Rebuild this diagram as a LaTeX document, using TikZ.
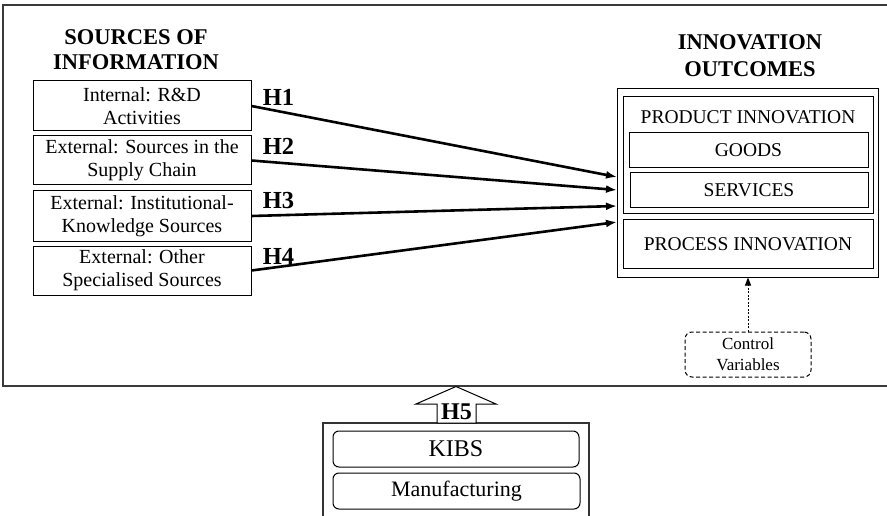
\documentclass[tikz,border=0pt]{standalone}
\usepackage{fontspec}
\setmainfont{Liberation Serif}
\usetikzlibrary{arrows.meta,calc}
\definecolor{framegray}{HTML}{3A3A3A}
\begin{document}
\begin{tikzpicture}[x=1pt,y=-1pt,
  srcbox/.style={draw=black,line width=1pt,minimum width=218pt,minimum height=49pt,inner sep=0pt,align=center,font=\fontsize{20}{23}\selectfont},
  innbox/.style={draw=black,line width=1pt,inner sep=0pt},
  innlabel/.style={inner sep=0pt,font=\fontsize{19.5}{22}\selectfont},
  title/.style={align=center,inner sep=0pt,font=\fontsize{22.5}{25}\selectfont\bfseries},
  hlabel/.style={inner sep=0pt,font=\fontsize{24.5}{26}\selectfont\bfseries},
  hyparrow/.style={line width=2.6pt,-{Latex[length=11pt,width=8pt]}},
  roundbox/.style={draw=black,line width=1pt,rounded corners=6pt,inner sep=0pt}
]
\useasboundingbox (0,0) rectangle (887,516);
\clip (0,0) rectangle (887,516);

% outer frame
\draw[framegray,line width=1.3pt] (3,5) rectangle (895,386);

% titles
\node[title] (t1) at (136,50) {SOURCES OF\\INFORMATION};
\node[title,font=\fontsize{22.5}{27}\selectfont\bfseries] (t2) at (750,56) {INNOVATION\\OUTCOMES};

% source boxes
\node[srcbox,minimum height=50pt] (s1) at (142,106) {Internal: R\&D\\Activities};
\node[srcbox] (s2) at (142,160.5) {External: Sources in the\\Supply Chain};
\node[srcbox,minimum height=50pt] (s3) at (142,216) {External: Institutional-\\Knowledge Sources};
\node[srcbox] (s4) at (142,270.5) {External: Other\\Specialised Sources};

% hypothesis labels
\node[hlabel] (h1) at (278.5,97) {H1};
\node[hlabel] (h2) at (278.5,146) {H2};
\node[hlabel] (h3) at (278.5,201) {H3};
\node[hlabel] (h4) at (278.5,256) {H4};

% innovation outcomes
\node[innbox,minimum width=261pt,minimum height=188pt] (out) at (747.5,183) {};
\node[innbox,minimum width=250pt,minimum height=117pt] (prod) at (748,155.5) {};
\node[innlabel] (prodl) at (748,117) {PRODUCT INNOVATION};
\node[innbox,minimum width=239pt,minimum height=35pt] (goods) at (748.5,150.5) {};
\node[innlabel] at (goods.center) {GOODS};
\node[innbox,minimum width=238pt,minimum height=35pt] (serv) at (749,190.5) {};
\node[innlabel] at (serv.center) {SERVICES};
\node[innbox,minimum width=250pt,minimum height=48pt] (proc) at (748,244) {};
\node[innlabel] at (proc.center) {PROCESS INNOVATION};

% arrow targets
\coordinate (e1) at (617,177);
\coordinate (e2) at (617,190);
\coordinate (e3) at (617,206);
\coordinate (e4) at (617,222);

\draw[hyparrow] (s1.east) -- (e1);
\draw[hyparrow] (s2.east) -- (e2);
\draw[hyparrow] (s3.east) -- (e3);
\draw[hyparrow] (s4.east) -- (e4);

% control variables
\node[draw=black,dash pattern=on 4pt off 2.5pt,line width=1pt,rounded corners=7pt,minimum width=126pt,minimum height=45pt,align=center,inner sep=0pt,font=\fontsize{17}{21}\selectfont] (ctrl) at (748,354.5) {Control\\Variables};
\draw[dash pattern=on 2pt off 1.5pt,line width=1pt,-{Triangle[length=8pt,width=6pt]}] (ctrl.north) -- (ctrl.north |- out.south);

% bottom group
\draw[black!80,line width=1.2pt] (323,530) -- (323,423) -- (589,423) -- (589,530);
\node[roundbox,minimum width=246pt,minimum height=36pt,font=\fontsize{24}{26}\selectfont] (kibs) at (456,449) {KIBS};
\node[roundbox,minimum width=247pt,minimum height=36pt,font=\fontsize{22}{24}\selectfont] (manu) at (456.5,491) {Manufacturing};

% H5 arrow
\draw[black,line width=1pt,fill=white] (437,423) -- (437,404) -- (416,404) -- (456,386.5) -- (496,404) -- (476,404) -- (476,423) -- cycle;
\node[hlabel,font=\fontsize{24}{26}\selectfont\bfseries] (h5) at (456.5,412) {H5};
\end{tikzpicture}
\end{document}
